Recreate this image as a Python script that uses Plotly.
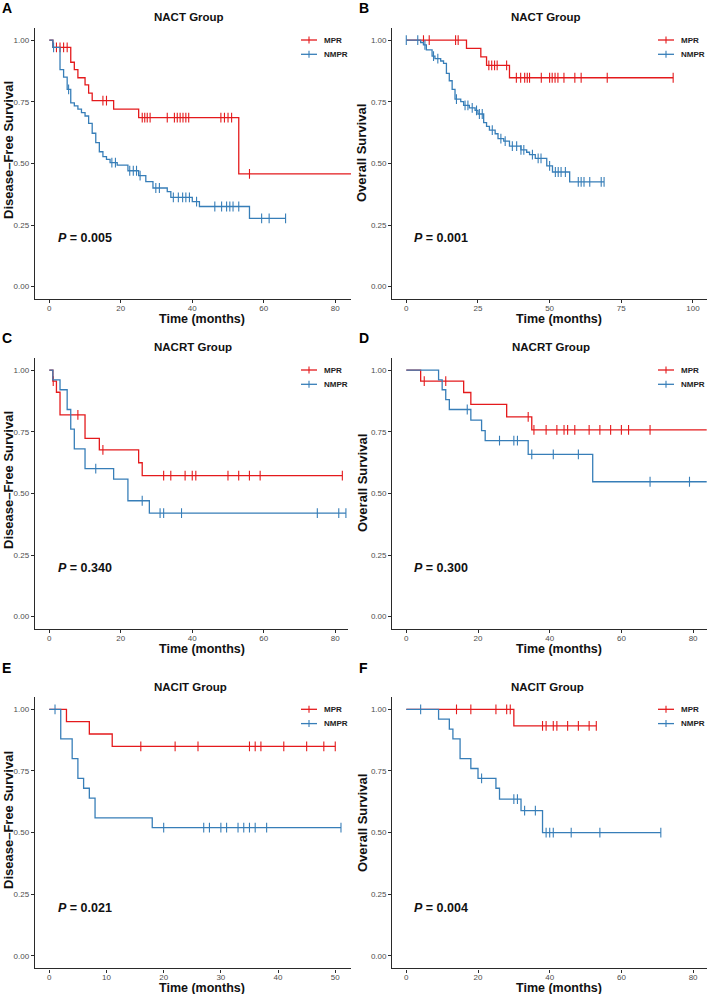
import plotly.graph_objects as go

# ---------------- data ----------------
# Panel A: NACT, disease-free survival
A_MPR_time = [1, 6, 7, 8, 10, 11, 12, 18, 25, 53]
A_MPR_surv = [0.970, 0.910, 0.880, 0.847, 0.818, 0.785, 0.754, 0.720, 0.685, 0.457]
A_MPR_cens = [2, 3, 4, 5, 15, 16, 26, 26.7, 27.4, 28.2, 33, 35, 35.8, 36.6, 37.4, 38.2, 39,
              48, 49, 50, 51, 56]
A_MPR_end = 86
A_NMPR_time = [1, 3, 4, 5, 6, 7, 8, 9, 10, 11, 12, 13, 14, 15, 16, 17, 19, 22, 25, 27, 29,
               33, 34, 40, 42, 56]
A_NMPR_surv = [0.970, 0.880, 0.850, 0.800, 0.745, 0.733, 0.720, 0.706, 0.692, 0.662, 0.622,
               0.584, 0.547, 0.527, 0.516, 0.503, 0.493, 0.470, 0.450, 0.426, 0.400, 0.385,
               0.362, 0.345, 0.325, 0.277]
A_NMPR_cens = [1.2, 5.4, 17.5, 18.5, 22.5, 23.5, 24.4, 25.4, 29.8, 30.8, 34.7, 36.1, 37.3,
               38.2, 39.2, 41.2, 46.3, 48.2, 49.6, 50.5, 51.4, 53, 59.4, 61.5, 66.1]
A_NMPR_end = 66.1

# Panel B: NACT, overall survival
B_MPR_time = [21, 26, 28, 36]
B_MPR_surv = [0.966, 0.932, 0.897, 0.847]
B_MPR_cens = [6, 8, 17.2, 18.1, 28.8, 29.8, 30.8, 31.7, 35, 38.4, 39.9, 41.3, 42.2, 43, 47.1,
              50, 50.9, 51.9, 52.9, 55, 58.8, 61, 70.1, 93.1]
B_MPR_end = 93.1
B_NMPR_time = [5, 6, 7, 9, 10, 12, 13, 14, 15, 16, 17, 19, 20, 22, 24, 25, 27, 28, 29, 31,
               32, 34, 36, 40, 42, 43, 45, 49, 51, 57]
B_NMPR_surv = [0.990, 0.980, 0.960, 0.935, 0.925, 0.915, 0.905, 0.865, 0.835, 0.800, 0.760,
               0.750, 0.735, 0.725, 0.715, 0.700, 0.665, 0.650, 0.635, 0.620, 0.600, 0.590,
               0.570, 0.555, 0.545, 0.535, 0.520, 0.490, 0.465, 0.425]
B_NMPR_cens = [0, 4, 6.5, 9.5, 11, 17.5, 20.5, 21.5, 23, 24.5, 25.5, 26.5, 30, 33, 34.5, 37,
               38.5, 40, 41, 44, 46, 47, 50, 52, 53, 54, 55.5, 60, 61, 62, 64, 68, 69]
B_NMPR_end = 69

# Panel C: NACRT, disease-free survival
C_MPR_time = [1, 2, 3, 10, 14, 25, 26]
C_MPR_surv = [0.955, 0.910, 0.818, 0.723, 0.676, 0.624, 0.572]
C_MPR_cens = [1.1, 8, 15, 32, 34, 38, 40, 41, 50, 53, 56, 59, 82]
C_MPR_end = 82
C_NMPR_time = [1, 3, 5, 6, 7, 10, 18, 22, 28]
C_NMPR_surv = [0.960, 0.920, 0.840, 0.760, 0.680, 0.600, 0.558, 0.470, 0.420]
C_NMPR_cens = [13, 26, 31, 32, 37, 75, 81, 83]
C_NMPR_end = 83

# Panel D: NACRT, overall survival
D_MPR_time = [4, 16, 18, 28, 35]
D_MPR_surv = [0.955, 0.909, 0.861, 0.810, 0.757]
D_MPR_cens = [5, 11, 34, 35.6, 39, 42, 44, 45, 47, 51, 54, 57, 60, 62, 68]
D_MPR_end = 86
D_NMPR_time = [9, 10, 11, 12, 18, 21, 22, 34, 52]
D_NMPR_surv = [0.960, 0.920, 0.880, 0.840, 0.797, 0.754, 0.714, 0.658, 0.547]
D_NMPR_cens = [17, 26, 30, 31, 35, 41, 48, 68, 79]
D_NMPR_end = 86

# Panel E: NACIT, disease-free survival
E_MPR_time = [3, 7, 11]
E_MPR_surv = [0.950, 0.900, 0.850]
E_MPR_cens = [16, 22, 26, 35, 36, 37, 41, 45, 48, 50]
E_MPR_end = 50
E_NMPR_time = [2, 4, 5, 6, 7, 8, 18]
E_NMPR_surv = [0.880, 0.800, 0.720, 0.680, 0.640, 0.560, 0.520]
E_NMPR_cens = [1, 20, 27, 28, 30, 31, 33, 34, 35, 36, 38, 51]
E_NMPR_end = 51

# Panel F: NACIT, overall survival
F_MPR_time = [30]
F_MPR_surv = [0.933]
F_MPR_cens = [14, 18, 25, 28, 29, 38, 39, 41, 42, 45, 48, 51, 53]
F_MPR_end = 53
F_NMPR_time = [9, 12, 13, 15, 18, 20, 25, 26, 32, 38]
F_NMPR_surv = [0.960, 0.920, 0.880, 0.800, 0.760, 0.720, 0.680, 0.636, 0.589, 0.500]
F_NMPR_cens = [4, 21, 30, 31, 33, 36, 39, 40, 41, 46, 54, 71]
F_NMPR_end = 71

GROUPS = ["MPR", "NMPR"]
TITLES = ["NACT Group", "NACT Group", "NACRT Group", "NACRT Group", "NACIT Group", "NACIT Group"]
YTITLES = ["Disease\u2013Free Survival", "Overall Survival"] * 3
PVALUES = ["0.005", "0.001", "0.340", "0.300", "0.021", "0.004"]
LETTERS = ["A", "B", "C", "D", "E", "F"]
Y_TICKS = [0, 0.25, 0.5, 0.75, 1.0]

# ---------------- styling / layout ----------------
W, H = 709, 994
RED = "#E41A1C"
BLUE = "#377EB8"
FONT = "Liberation Sans, Arial, sans-serif"


def px(x):
    return x / W


def py(y):
    return 1 - y / H


curves = [
    ((A_MPR_time, A_MPR_surv, A_MPR_cens, A_MPR_end), (A_NMPR_time, A_NMPR_surv, A_NMPR_cens, A_NMPR_end)),
    ((B_MPR_time, B_MPR_surv, B_MPR_cens, B_MPR_end), (B_NMPR_time, B_NMPR_surv, B_NMPR_cens, B_NMPR_end)),
    ((C_MPR_time, C_MPR_surv, C_MPR_cens, C_MPR_end), (C_NMPR_time, C_NMPR_surv, C_NMPR_cens, C_NMPR_end)),
    ((D_MPR_time, D_MPR_surv, D_MPR_cens, D_MPR_end), (D_NMPR_time, D_NMPR_surv, D_NMPR_cens, D_NMPR_end)),
    ((E_MPR_time, E_MPR_surv, E_MPR_cens, E_MPR_end), (E_NMPR_time, E_NMPR_surv, E_NMPR_cens, E_NMPR_end)),
    ((F_MPR_time, F_MPR_surv, F_MPR_cens, F_MPR_end), (F_NMPR_time, F_NMPR_surv, F_NMPR_cens, F_NMPR_end)),
]

# pixel geometry per panel: plot box (left, top, right, bottom), x range, dtick
geom = [
    dict(box=(35, 27.7, 351, 299), xr=[-4.0, 84.4], dtick=20),
    dict(box=(392.3, 27.7, 706.7, 299), xr=[-4.88, 104.8], dtick=25),
    dict(box=(35, 357.7, 347.7, 629), xr=[-4.0, 83.5], dtick=20),
    dict(box=(392.3, 357.7, 706.7, 629), xr=[-3.91, 83.8], dtick=20),
    dict(box=(35, 697, 350.7, 968.3), xr=[-2.5, 52.7], dtick=10),
    dict(box=(392.3, 697, 706.7, 968.3), xr=[-3.91, 83.8], dtick=20),
]

# text positions (pixel centres) per panel
text_pos = [
    dict(title=(189, 16.7), xt=(202, 318.5), yt=(8, 150), p=(56, 238), letter=(6.5, 7.5), leg=(301, 40)),
    dict(title=(545.7, 16.7), xt=(559, 318.5), yt=(362, 153), p=(412, 238), letter=(364, 7.5), leg=(658, 40)),
    dict(title=(192.7, 346.7), xt=(202, 648.5), yt=(8, 480), p=(56, 568), letter=(6.5, 337.5), leg=(301, 370)),
    dict(title=(550.7, 346.7), xt=(559, 648.5), yt=(362, 483), p=(412, 568), letter=(364, 337.5), leg=(658, 370)),
    dict(title=(190, 686.7), xt=(202, 987.7), yt=(8, 820), p=(56, 908), letter=(6.5, 667.5), leg=(301, 709.3)),
    dict(title=(547.3, 686.7), xt=(559, 987.7), yt=(362, 823), p=(412, 908), letter=(363, 667.5), leg=(658, 709.3)),
]


def surv_at(times, survs, t):
    s = 1.0
    for ti, si in zip(times, survs):
        if ti <= t:
            s = si
    return s


fig = go.Figure()
annotations = []
shapes = []
layout_axes = {}

for i in range(6):
    n = "" if i == 0 else str(i + 1)
    xa, ya = "x" + n, "y" + n
    g = geom[i]
    l, t, r, b = g["box"]
    layout_axes["xaxis" + n] = dict(
        domain=[px(l), px(r)], range=g["xr"], anchor=ya, dtick=g["dtick"], tick0=0,
        showgrid=False, zeroline=False, showline=True, linecolor="#2a2a2a", linewidth=1.4,
        ticks="outside", ticklen=3, tickwidth=1, tickcolor="#2a2a2a", ticklabelstandoff=-2,
        tickfont=dict(size=8, color="#4D4D4D", family=FONT), fixedrange=True,
    )
    layout_axes["yaxis" + n] = dict(
        domain=[py(b), py(t)], range=[-0.05, 1.05], anchor=xa, tickvals=Y_TICKS,
        tickformat=".2f", showgrid=False, zeroline=False, showline=True,
        linecolor="#2a2a2a", linewidth=1.4, ticks="outside", ticklen=3, tickwidth=1,
        tickcolor="#2a2a2a", tickfont=dict(size=8, color="#4D4D4D", family=FONT),
        fixedrange=True,
    )

    for (times, survs, cens, end), color, name in zip(curves[i], [RED, BLUE], GROUPS):
        xs = [0] + list(times) + [end]
        ys = [1.0] + list(survs) + [survs[-1]]
        fig.add_trace(go.Scatter(
            x=xs, y=ys, mode="lines", line=dict(shape="hv", color=color, width=1.3),
            xaxis=xa, yaxis=ya, name=name, showlegend=False, hoverinfo="skip",
        ))
        fig.add_trace(go.Scatter(
            x=list(cens), y=[surv_at(times, survs, c) for c in cens], mode="markers",
            marker=dict(symbol="line-ns", size=7, color=color,
                        line=dict(color=color, width=1.1)),
            xaxis=xa, yaxis=ya, name=name + " censored", showlegend=False,
        ))

    tp = text_pos[i]
    annotations += [
        dict(text="<b>%s</b>" % TITLES[i], x=px(tp["title"][0]), y=py(tp["title"][1]),
             xref="paper", yref="paper", showarrow=False, xanchor="center", yanchor="middle",
             font=dict(size=11.5, color="#111", family=FONT)),
        dict(text="<b>Time (months)</b>", x=px(tp["xt"][0]), y=py(tp["xt"][1]),
             xref="paper", yref="paper", showarrow=False, xanchor="center", yanchor="middle",
             font=dict(size=12.5, color="#111", family=FONT)),
        dict(text="<b>%s</b>" % YTITLES[i], x=px(tp["yt"][0]), y=py(tp["yt"][1]),
             xref="paper", yref="paper", showarrow=False, xanchor="center", yanchor="middle",
             textangle=-90, font=dict(size=13, color="#111", family=FONT)),
        dict(text="<b><i>P</i> = %s</b>" % PVALUES[i], x=px(tp["p"][0]), y=py(tp["p"][1]),
             xref="paper", yref="paper", showarrow=False, xanchor="left", yanchor="middle",
             font=dict(size=12.5, color="#111", family=FONT)),
        dict(text="<b>%s</b>" % LETTERS[i], x=px(tp["letter"][0]), y=py(tp["letter"][1]),
             xref="paper", yref="paper", showarrow=False, xanchor="center", yanchor="middle",
             font=dict(size=14, color="#000", family=FONT)),
    ]
    # legend keys (line with censor tick) and labels
    lx, ly = tp["leg"]
    for k, (color, name) in enumerate(zip([RED, BLUE], GROUPS)):
        yy = ly + 14.3 * k
        shapes.append(dict(type="line", xref="paper", yref="paper",
                           x0=px(lx), x1=px(lx + 16), y0=py(yy), y1=py(yy),
                           line=dict(color=color, width=1.3)))
        shapes.append(dict(type="line", xref="paper", yref="paper",
                           x0=px(lx + 8), x1=px(lx + 8), y0=py(yy - 3.5), y1=py(yy + 3.5),
                           line=dict(color=color, width=1.1)))
        annotations.append(dict(text="<b>%s</b>" % name, x=px(lx + 20.5), y=py(yy),
                                xref="paper", yref="paper", showarrow=False,
                                xanchor="left", yanchor="middle",
                                font=dict(size=8, color="#222", family=FONT)))

fig.update_layout(
    width=W, height=H, margin=dict(l=0, r=0, t=0, b=0),
    paper_bgcolor="white", plot_bgcolor="white", showlegend=False,
    font=dict(family=FONT), annotations=annotations, shapes=shapes, **layout_axes,
)

fig.write_html("out.html")
